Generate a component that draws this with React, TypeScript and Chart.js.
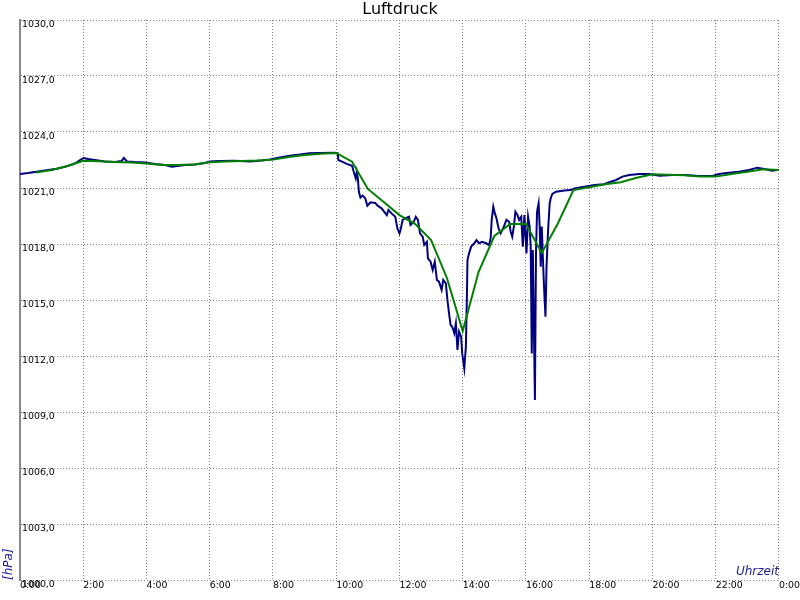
import React, { useEffect, useRef } from 'react';
import { Chart, registerables } from 'chart.js';

Chart.register(...registerables);

// ---- data (time in minutes since midnight, pressure in hPa) ----
const blueMinutes = [
  0, 15, 28, 47, 70, 85, 99, 106, 114, 121, 129, 142, 161, 180, 193, 197, 203, 218, 237, 256,
  275, 288, 299, 313, 332, 351, 360, 379, 407, 436, 459, 474, 493, 512, 531, 549, 568, 597, 603,
  604, 611, 620, 630, 634, 637, 639, 641, 643, 646, 650, 655, 659, 665, 674, 679, 686, 696, 699, 705,
  712, 716, 720, 722, 726, 732, 738, 741, 747, 751, 755, 759, 764, 767, 772, 774, 779, 783, 787, 791,
  795, 800, 803, 808, 811, 814, 817, 820, 824, 827, 830, 833, 837, 839, 843, 846, 848, 849, 852, 856,
  862, 866, 871, 877, 884, 890, 893, 895, 898, 901, 904, 908, 912, 918, 923, 928, 931, 934, 937, 940,
  944, 947, 951, 954, 957, 961, 964, 967, 969, 971, 973, 977, 979, 981, 984, 986, 988, 990, 992, 994,
  997, 999, 1002, 1005, 1007, 1010, 1017, 1033, 1045, 1052, 1071, 1090, 1108, 1118, 1131, 1143, 1156,
  1175, 1194, 1213, 1238, 1263, 1288, 1314, 1326, 1345, 1364, 1383, 1399, 1415, 1427, 1437,
];
const bluePressure = [
  1021.75, 1021.8, 1021.86, 1021.94, 1022.03, 1022.13, 1022.26, 1022.34, 1022.5, 1022.61, 1022.55, 1022.5,
  1022.42, 1022.39, 1022.45, 1022.61, 1022.42, 1022.39, 1022.37, 1022.29, 1022.23, 1022.14, 1022.18, 1022.23,
  1022.26, 1022.34, 1022.42, 1022.45, 1022.46, 1022.42, 1022.47, 1022.53, 1022.63, 1022.73, 1022.79, 1022.86,
  1022.88, 1022.89, 1022.86,
  1022.5, 1022.41, 1022.29, 1022.19, 1021.79, 1021.52, 1021.87, 1021.52, 1020.8, 1020.48, 1020.59, 1020.45,
  1020.05, 1020.23, 1020.2, 1020.04, 1019.91, 1019.55, 1019.82, 1019.64, 1019.46, 1018.84, 1018.57, 1018.75,
  1019.29, 1019.38, 1019.46, 1019.02, 1019.19, 1019.46, 1019.29, 1018.57, 1018.39, 1017.95, 1018.12, 1017.23,
  1017.05, 1016.61, 1017.05, 1016.07, 1015.98, 1015.54, 1016.07, 1015.89, 1015.0, 1014.29, 1013.66, 1013.57,
  1013.22, 1013.75, 1012.32, 1013.3, 1013.03, 1012.14, 1011.34, 1012.5, 1015.27, 1017.14, 1017.5, 1017.86,
  1018.04, 1018.21, 1018.04, 1018.12, 1018.04, 1017.95, 1018.31, 1019.29, 1020.0, 1019.64, 1019.38, 1018.84,
  1018.57, 1018.93, 1019.29, 1019.19, 1018.66, 1018.39, 1018.93, 1019.73, 1019.55, 1019.29, 1019.46, 1017.86,
  1019.55, 1017.5, 1019.46, 1018.93, 1017.86, 1012.14, 1017.68, 1009.64, 1017.5, 1019.73, 1020.18, 1018.93,
  1016.78, 1018.93, 1017.32, 1015.89, 1014.11, 1016.78, 1018.75, 1020.18, 1020.45, 1020.68, 1020.8, 1020.86,
  1020.89, 1020.98, 1021.07, 1021.16, 1021.2, 1021.31, 1021.43, 1021.61, 1021.7, 1021.75, 1021.75, 1021.66,
  1021.7, 1021.7, 1021.64, 1021.64, 1021.75, 1021.82, 1021.87, 1021.96, 1022.09, 1022.0, 1021.93, 1021.96,
];

const greenMinutes = [
  30, 60, 90, 120, 150, 180, 210, 240, 270, 300, 330, 360, 390, 420, 450, 480, 510, 540, 570, 600,
  630, 660, 690, 720, 750, 780, 810, 840, 870, 900, 930, 960, 990, 1020, 1050, 1080, 1110, 1140, 1170, 1200,
  1230, 1260, 1290, 1320, 1350, 1380, 1410, 1440,
];
const greenPressure = [
  1021.83, 1021.96, 1022.18, 1022.46, 1022.43, 1022.39, 1022.36, 1022.31, 1022.23, 1022.23, 1022.26, 1022.38,
  1022.42, 1022.45, 1022.47, 1022.52, 1022.66, 1022.77, 1022.84, 1022.88,
  1022.41, 1020.95, 1020.25, 1019.55, 1019.07, 1018.21, 1016.18, 1013.34, 1016.5, 1018.43,
  1019.07, 1019.07, 1017.52, 1019.07, 1020.89, 1021.04, 1021.2, 1021.31, 1021.55, 1021.73,
  1021.71, 1021.68, 1021.61, 1021.61, 1021.75, 1021.87, 1022.0, 1021.96,
];

const yMin = 1000;
const yMax = 1030;
const yStep = 3;
const xMinHour = 0;
const xMaxHour = 24;
const xStepHour = 2;

const titleText = 'Luftdruck';
const yTitle = '[hPa]';
const xTitle = 'Uhrzeit';

const FONT = "'DejaVu Sans', sans-serif";
const AXIS_TITLE_COLOR = '#1c1c96';
const GRID_COLOR = '#808080';

export default function App() {
  const ref = useRef<HTMLCanvasElement>(null);

  useEffect(() => {
    const canvas = ref.current;
    if (!canvas) return;
    const toPts = (m: number[], v: number[]) => m.map((t, i) => ({ x: t / 60, y: v[i] }));
    const chart = new Chart(canvas, {
      type: 'line',
      data: {
        datasets: [
          {
            label: 'Mittel',
            data: toPts(greenMinutes, greenPressure),
            borderColor: '#008000',
            backgroundColor: '#008000',
            borderWidth: 2,
            pointRadius: 0,
            tension: 0,
            fill: false,
          },
          {
            label: 'Luftdruck',
            data: toPts(blueMinutes, bluePressure),
            borderColor: '#000080',
            backgroundColor: '#000080',
            borderWidth: 2,
            pointRadius: 0,
            tension: 0,
            fill: false,
          },
        ],
      },
      options: {
        responsive: false,
        animation: false,
        events: [],
        layout: { padding: 0, autoPadding: false },
        plugins: {
          legend: { display: false },
          tooltip: { enabled: false },
          title: {
            display: true,
            text: titleText,
            color: '#000000',
            font: { family: FONT, size: 16, weight: 'normal', lineHeight: 1.25 },
            padding: 0,
          },
        },
        scales: {
          x: {
            type: 'linear',
            min: xMinHour,
            max: xMaxHour,
            afterFit: (s: any) => {
              s.height = 20;
            },
            grid: { color: GRID_COLOR, lineWidth: 1, drawTicks: false },
            border: { display: false, dash: [1, 2] },
            ticks: {
              stepSize: xStepHour,
              autoSkip: false,
              maxRotation: 0,
              align: 'start',
              padding: 0,
              color: '#000000',
              font: { family: FONT, size: 9.4 },
              callback: (v: any) => `${Number(v) % 24}:00`,
            },
            title: {
              display: true,
              text: xTitle,
              align: 'end',
              color: AXIS_TITLE_COLOR,
              font: { family: FONT, size: 12, style: 'italic' },
              padding: { top: 0, bottom: 21 },
            },
          },
          y: {
            type: 'linear',
            min: yMin,
            max: yMax,
            afterFit: (s: any) => {
              s.width = 20;
            },
            grid: { color: GRID_COLOR, lineWidth: 1, drawTicks: false },
            border: { display: true, color: '#888888', width: 2, dash: [1, 2] },
            ticks: {
              stepSize: yStep,
              autoSkip: false,
              mirror: true,
              align: 'start',
              padding: 2,
              color: '#000000',
              font: { family: FONT, size: 9.4 },
              callback: (v: any) => Number(v).toFixed(1).replace('.', ','),
            },
            title: {
              display: true,
              text: yTitle,
              align: 'start',
              color: AXIS_TITLE_COLOR,
              font: { family: FONT, size: 12, style: 'italic' },
              padding: { top: 2, bottom: 0 },
            },
          },
          yRightSpacer: {
            type: 'linear',
            position: 'right',
            display: true,
            min: yMin,
            max: yMax,
            grid: { display: false, drawTicks: false },
            border: { display: false },
            ticks: { display: false },
            afterFit: (s: any) => {
              s.width = 20;
            },
          },
        },
      } as any,
    });
    return () => chart.destroy();
  }, []);

  return (
    <div style={{ position: 'absolute', left: 0, top: 0, width: 800, height: 600, background: '#ffffff' }}>
      <canvas ref={ref} width={800} height={600} style={{ display: 'block' }} />
    </div>
  );
}
